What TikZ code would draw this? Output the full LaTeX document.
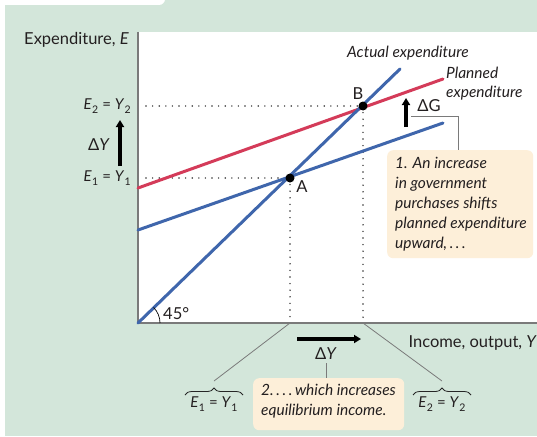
\documentclass[tikz,border=0pt]{standalone}
\usepackage{fontspec}
\setmainfont{Lato}
\usetikzlibrary{arrows.meta,decorations.pathreplacing}
\definecolor{bggreen}{HTML}{D3E6DA}
\definecolor{cream}{HTML}{FDEFD9}
\definecolor{lblue}{HTML}{3F66AC}
\definecolor{lred}{HTML}{D43B59}
\definecolor{axgray}{HTML}{7A7A7A}
\definecolor{txt}{HTML}{231F20}
\newcommand{\subnum}[1]{\kern0.3pt\raisebox{-3.5pt}{\fontsize{10.5}{11}\selectfont #1}}
\newcommand{\eqlab}[1]{\textit{E}\subnum{#1}\hspace{4pt}=\hspace{4pt}\textit{Y}\subnum{#1}}
\begin{document}
\begin{tikzpicture}[x=1pt,y=-1pt,
  lab/.style={font=\fontsize{16.5}{19}\selectfont, text=txt, inner sep=0pt},
  eqf/.style={font=\fontsize{15}{18}\selectfont, text=txt, inner sep=0pt},
  ilab/.style={font=\fontsize{15.5}{18}\selectfont\itshape, text=txt, inner sep=0pt},
  dotline/.style={dash pattern=on 0pt off 6.6pt, line cap=round, line width=1.6pt, black!80},
  eqdot/.style={circle, fill=black, inner sep=0pt, minimum size=9pt},
  bigarrow/.style={-{Triangle[length=7pt,width=8pt]}, line width=3.5pt, black},
  thin/.style={axgray, line width=0.8pt},
  curve/.style={line width=3pt, line cap=round},
  note/.style={fill=cream, rounded corners=6pt},
  notetext/.style={font=\fontsize{15.5}{20}\selectfont\itshape, text=txt, align=left, inner sep=0pt},
  brc/.style={decorate, decoration={brace, amplitude=7pt}, line width=0.8pt, black!85}
]
\useasboundingbox (0,0) rectangle (537,436);
% background
\fill[bggreen] (5,0) rectangle (537,436);
\fill[white, rounded corners=6pt] (-10,-10) rectangle (165,5);
\fill[white] (0,0) rectangle (5,436);
\fill[white] (138,32) rectangle (537,323);
% axes
\coordinate (O) at (138,323);
\coordinate (ytop) at (138,32);
\coordinate (xend) at (537,323);
\draw[axgray, line width=1.3pt] (ytop) -- (O) -- (xend);
% equilibrium points
\coordinate (A) at (290,178);
\coordinate (B) at (363,106);
\coordinate (Ax) at (290,323);
\coordinate (Bx) at (363,323);
\coordinate (Ay) at (146,178);
\coordinate (By) at (146,106);
% dotted guides
\draw[dotline] (By) -- (B);
\draw[dotline] (Ay) -- (A);
\draw[dotline] (A) -- (Ax);
\draw[dotline] (B) -- (Bx);
% lines
\coordinate (act) at (400,69);
\coordinate (r0) at (138,188);
\coordinate (r1) at (443,79);
\coordinate (b0) at (138,230);
\coordinate (b1) at (443,123);
\draw[curve, lblue] (b0) -- (b1);
\draw[curve, lred] (r0) -- (r1);
\draw[curve, lblue] (O) -- (act);
\node[eqdot] (Adot) at (A) {};
\node[eqdot] (Bdot) at (B) {};
\node[lab] (Alab) at (302,187) {A};
\node[lab] (Blab) at (358,94) {B};
% 45 degrees
\draw[black, line width=0.7pt] (160,323) arc[start angle=0, end angle=-45, radius=22];
\node[lab, anchor=west] (deg) at (163,314) {45°};
% axis labels
\node[lab, anchor=east] (ylab) at (129,40) {Expenditure, \textit{E}};
\node[lab, anchor=east] (xlab) at (537,343) {Income, output, \textit{Y}};
\node[ilab] (actlab) at (408,53) {Actual expenditure};
\node[ilab, anchor=north west, align=left, font=\fontsize{15.5}{18.5}\selectfont\itshape] (planlab) at (446,67) {Planned\\expenditure};
% left labels
\node[eqf, anchor=east] (e2) at (131,106) {\eqlab{2}};
\node[eqf, anchor=east] (e1) at (131,178) {\eqlab{1}};
\coordinate (dyb) at (120,166);
\coordinate (dyt) at (120,120);
\draw[bigarrow] (dyb) -- (dyt);
\node[lab, anchor=east] (dylab) at (110,145) {Δ\textit{Y}};
% delta G
\coordinate (dgb) at (406,127);
\coordinate (dgt) at (406,98);
\draw[bigarrow] (dgb) -- (dgt);
\node[lab] (dglab) at (429,106) {ΔG};
% note 1
\node[note, minimum width=146pt, minimum height=108pt, anchor=north west] (n1) at (387,150) {};
\node[notetext, anchor=north west] (n1t) at (395,157) {1. An increase\\in government\\purchases shifts\\planned expenditure\\upward,\,.\,.\,.};
\coordinate (g1) at (411,116);
\coordinate (g2) at (458,116);
\coordinate (g3) at (458,150);
\draw[thin] (g1) -- (g2) -- (g3);
% horizontal delta Y
\coordinate (hx0) at (297,339);
\coordinate (hx1) at (361,339);
\draw[bigarrow] (hx0) -- (hx1);
\node[lab] (hdy) at (326,354) {Δ\textit{Y}};
% note 2
\node[note, minimum width=151pt, minimum height=52pt, anchor=north west] (n2) at (253,378) {};
\node[notetext, anchor=north west] (n2t) at (261,384) {2.\,.\,.\,.\,which increases\\equilibrium income.};
\coordinate (hl0) at (326,363);
\draw[thin] (hl0) -- (n2.north -| hl0);
% braces
\node[eqf] (be1) at (214,404) {\eqlab{1}};
\node[eqf] (be2) at (442,404) {\eqlab{2}};
\draw[brc] (185,395) -- (243,395);
\draw[brc] (413,395) -- (471,395);
\coordinate (t1) at (214,381);
\coordinate (t2) at (442,381);
\draw[thin] (t1) -- (Ax);
\draw[thin] (t2) -- (Bx);
\end{tikzpicture}
\end{document}
